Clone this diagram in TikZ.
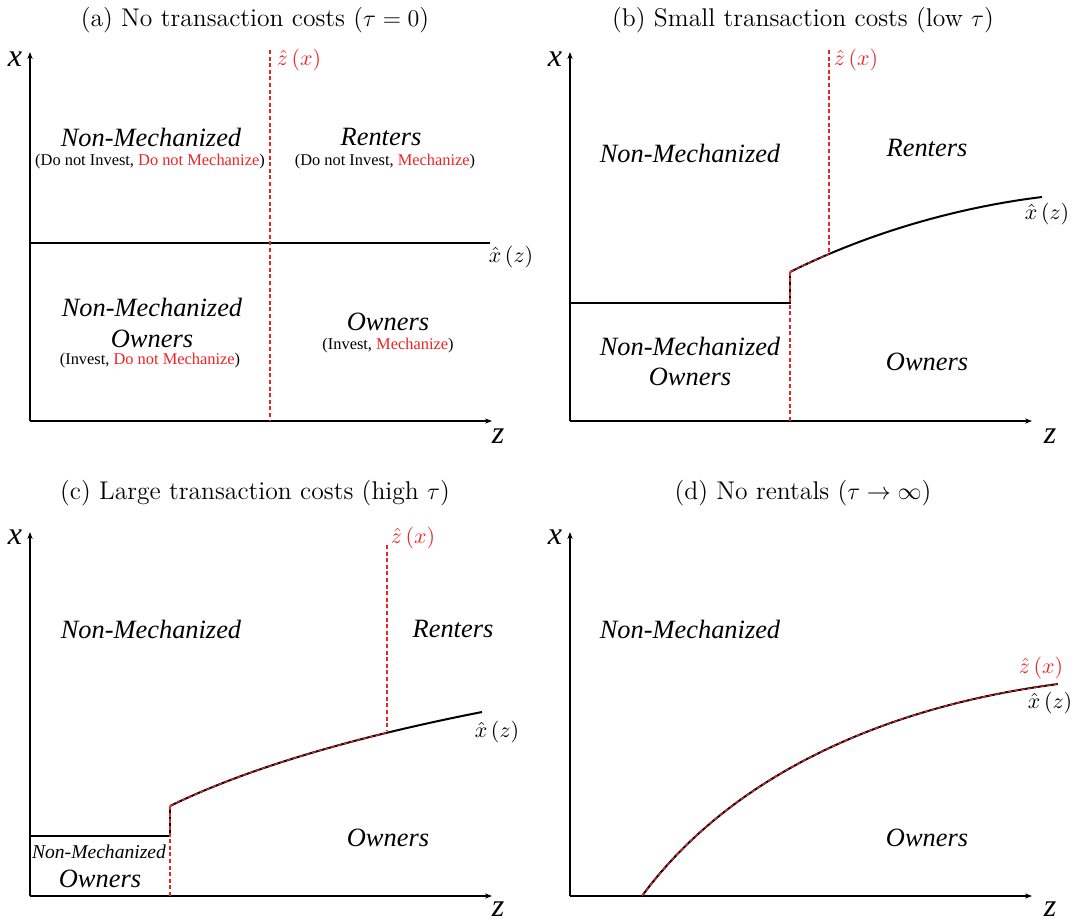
\documentclass[tikz,border=0pt]{standalone}
\usepackage{fontspec}
\usetikzlibrary{arrows.meta}
\newfontfamily\tnr{Liberation Serif}
\definecolor{myred}{RGB}{238,36,36}
\tikzset{
  axis/.style={line width=0.7pt,-{Stealth[length=3.5pt,width=2.6pt]}},
  bline/.style={line width=0.7pt},
  bcurve/.style={line width=1pt},
  rdash/.style={myred,line width=0.6pt,dash pattern=on 2pt off 1.3pt},
  ttl/.style={font=\fontsize{12.8}{14}\selectfont},
  reg/.style={font=\tnr\itshape\fontsize{13.2}{16}\selectfont,align=center},
  regs/.style={font=\tnr\itshape\fontsize{9.8}{12}\selectfont,align=center},
  sub/.style={font=\tnr\fontsize{8.2}{10}\selectfont},
  axl/.style={font=\tnr\itshape\fontsize{16}{16}\selectfont},
  fl/.style={font=\fontsize{11}{12}\selectfont},
}
\newcommand{\zx}{$\hat{z}\,(x)$}
\newcommand{\xz}{$\hat{x}\,(z)$}
\begin{document}
\begin{tikzpicture}[x=0.5pt,y=-0.5pt]
\useasboundingbox (0,0) rectangle (1076,923);
% ---------- (a)
\node[ttl] (ta) at (255,20) {(a) No transaction costs ($\tau=0$)};
\coordinate (ao) at (30,421);
\coordinate (ay) at (30,52);
\coordinate (ax) at (492,421);
\draw[axis] (ao) -- (ay);
\draw[axis] (ao) -- (ax);
\node[axl] (alx) at (15,59) {x};
\node[axl] (alz) at (498,436) {z};
\coordinate (ah1) at (30,243);
\coordinate (ah2) at (490,243);
\draw[bline] (ah1) -- (ah2);
\node[fl] (axz) at (511,257) {\xz};
\coordinate (ar1) at (270,50);
\coordinate (ar2) at (270,421);
\draw[rdash] (ar1) -- (ar2);
\node[fl,myred] (azx) at (299,60) {\zx};
\node[reg] (a1) at (151,137) {Non-Mechanized};
\node[sub] (a1s) at (150,162) {(Do not Invest, \textcolor{myred}{Do not Mechanize})};
\node[reg] (a2) at (381,137) {Renters};
\node[sub] (a2s) at (385,162) {(Do not Invest, \textcolor{myred}{Mechanize})};
\node[reg] (a3) at (152,307) {Non-Mechanized};
\node[reg] (a3b) at (152,339) {Owners};
\node[sub] (a3s) at (150,361) {(Invest, \textcolor{myred}{Do not Mechanize})};
\node[reg] (a4) at (388,322) {Owners};
\node[sub] (a4s) at (388,346) {(Invest, \textcolor{myred}{Mechanize})};
% ---------- (b)
\node[ttl] (tb) at (803,20) {(b) Small transaction costs (low $\tau$)};
\coordinate (bo) at (570,421);
\coordinate (by) at (570,52);
\coordinate (bx) at (1032,421);
\draw[axis] (bo) -- (by);
\draw[axis] (bo) -- (bx);
\node[axl] (blx) at (555,59) {x};
\node[axl] (blz) at (1050,436) {z};
\coordinate (bh1) at (570,303);
\coordinate (bh2) at (790,303);
\coordinate (bj) at (790,272);
\coordinate (be) at (1042,197);
\draw[bline] (bh1) -- (bh2) -- (bj);
\draw[bcurve] (bj) .. controls (870,232) and (960,207) .. (be);
\begin{scope}
\clip (780,230) rectangle (829,300);
\draw[rdash] (bj) .. controls (870,232) and (960,207) .. (be);
\end{scope}
\coordinate (bb) at (790,421);
\draw[rdash] (bb) -- (bj);
\coordinate (br1) at (829,50);
\coordinate (br2) at (829,252);
\draw[rdash] (br1) -- (br2);
\node[fl,myred] (bzx) at (856,60) {\zx};
\node[fl] (bxz) at (1047,214) {\xz};
\node[reg] (b1) at (690,153) {Non-Mechanized};
\node[reg] (b2) at (927,148) {Renters};
\node[reg] (b3) at (690,346) {Non-Mechanized};
\node[reg] (b3b) at (690,377) {Owners};
\node[reg] (b4) at (927,362) {Owners};
% ---------- (c)
\node[ttl] (tc) at (255,493) {(c) Large transaction costs (high $\tau$)};
\coordinate (co) at (30,896);
\coordinate (cy) at (30,532);
\coordinate (cx) at (492,896);
\draw[axis] (co) -- (cy);
\draw[axis] (co) -- (cx);
\node[axl] (clx) at (15,537) {x};
\node[axl] (clz) at (498,909) {z};
\coordinate (ch1) at (30,836);
\coordinate (ch2) at (170,836);
\coordinate (cj) at (170,806);
\coordinate (ce) at (482,712);
\draw[bline] (ch1) -- (ch2) -- (cj);
\draw[bcurve] (cj) .. controls (260,762) and (380,732) .. (ce);
\begin{scope}
\clip (160,700) rectangle (387,820);
\draw[rdash] (cj) .. controls (260,762) and (380,732) .. (ce);
\end{scope}
\coordinate (cb) at (170,896);
\draw[rdash] (cb) -- (cj);
\coordinate (cr1) at (387,545);
\coordinate (cr2) at (387,731);
\draw[rdash] (cr1) -- (cr2);
\node[fl,myred] (czx) at (413,538) {\zx};
\node[fl] (cxz) at (497,732) {\xz};
\node[reg] (c1) at (151,629) {Non-Mechanized};
\node[reg] (c2) at (453,629) {Renters};
\node[reg] (c4) at (388,838) {Owners};
\node[regs] (c3) at (99,852) {Non-Mechanized};
\node[reg] (c3b) at (100,879) {Owners};
% ---------- (d)
\node[ttl] (td) at (803,493) {(d) No rentals ($\tau\to\infty$)};
\coordinate (do) at (570,896);
\coordinate (dy) at (570,532);
\coordinate (dx) at (1032,896);
\draw[axis] (do) -- (dy);
\draw[axis] (do) -- (dx);
\node[axl] (dlx) at (555,537) {x};
\node[axl] (dlz) at (1050,909) {z};
\coordinate (ds) at (642,896);
\coordinate (de) at (1058,684);
\draw[bcurve] (ds) .. controls (720,790) and (860,710) .. (de);
\draw[rdash] (ds) .. controls (720,790) and (860,710) .. (de);
\node[fl,myred] (dzx) at (1041,668) {\zx};
\node[fl] (dxz) at (1050,703) {\xz};
\node[reg] (d1) at (690,629) {Non-Mechanized};
\node[reg] (d4) at (927,838) {Owners};
\end{tikzpicture}
\end{document}
